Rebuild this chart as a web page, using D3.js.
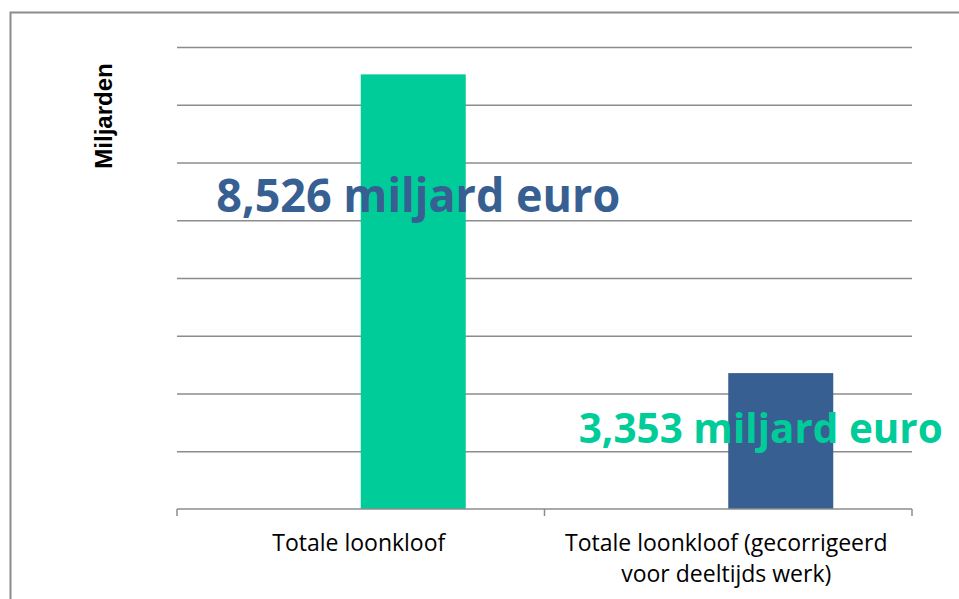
<!DOCTYPE html>
<html>
<head>
<meta charset="utf-8">
<script src="https://cdn.jsdelivr.net/npm/d3@7"></script>
<style>
  body { margin: 0; background: #fff; }
</style>
</head>
<body>
<div id="chart"></div>
<script>
// data
const categories = ["Totale loonkloof", "Totale loonkloof (gecorrigeerd voor deeltijds werk)"];
const categoryLines = [["Totale loonkloof"], ["Totale loonkloof (gecorrigeerd", "voor deeltijds werk)"]];
const values = [8.526, 3.353];
const valueLabels = ["8,526 miljard euro", "3,353 miljard euro"];
const yTicks = [1, 2, 3, 4, 5, 6, 7, 8, 9];
const yTitle = "Miljarden";

const barColors = ["#00cc99", "#375f92"];
const labelColors = ["#375f92", "#00cc99"];

const W = 959, H = 599;
const margin = {top: 47, right: 47, bottom: 90, left: 177},
    width = W - margin.left - margin.right,
    height = H - margin.top - margin.bottom;

const svg = d3.select("#chart")
    .append("svg")
    .attr("width", W)
    .attr("height", H);

// outer frame (cut off at right and bottom)
svg.append("rect")
    .attr("x", 10.5)
    .attr("y", 12.5)
    .attr("width", 1000)
    .attr("height", 700)
    .attr("fill", "none")
    .attr("stroke", "#8c8c8c")
    .attr("stroke-width", 2);

const g = svg.append("g")
    .attr("transform", `translate(${margin.left},${margin.top})`);

let x = d3.scaleBand()
    .domain(categories)
    .range([0, width])
    .padding(0);

// two series per group, the first one is empty (Excel gap width 150%)
let xSub = d3.scaleBand()
    .domain(["leeg", "waarde"])
    .range([0, x.bandwidth()])
    .paddingInner(0)
    .paddingOuter(0.75);

let y = d3.scaleLinear()
    .domain([1, 9])
    .range([height, 0]);

// gridlines
g.append("g")
    .call(d3.axisLeft(y).tickValues(yTicks.slice(1)).tickSize(-width).tickFormat(""))
    .call(s => s.select(".domain").remove())
    .call(s => s.selectAll(".tick line")
        .attr("stroke", "#8c8c8c")
        .attr("stroke-width", 1.5));

// bars
g.selectAll(".bar")
    .data(values)
    .enter()
    .append("rect")
    .attr("class", "bar")
    .attr("x", (d, i) => x(categories[i]) + xSub("waarde"))
    .attr("width", xSub.bandwidth())
    .attr("y", d => y(d))
    .attr("height", d => y(1) - y(d))
    .attr("fill", (d, i) => barColors[i]);

// x axis with ticks at the category edges
const xAxis = g.append("g")
    .attr("transform", `translate(0,${height})`);
xAxis.append("line")
    .attr("x1", 0).attr("x2", width)
    .attr("stroke", "#8c8c8c").attr("stroke-width", 1.5);
const edges = categories.map(c => x(c)).concat([width]);
xAxis.selectAll(".edge")
    .data(edges)
    .enter()
    .append("line")
    .attr("x1", d => d).attr("x2", d => d)
    .attr("y1", 0).attr("y2", 7)
    .attr("stroke", "#8c8c8c").attr("stroke-width", 1.5);

// category labels
categoryLines.forEach(function (lines, i) {
    let t = xAxis.append("text")
        .attr("text-anchor", "middle")
        .style("font-family", "'Open Sans', sans-serif")
        .style("font-size", "23px")
        .attr("fill", "#000");
    lines.forEach(function (line, j) {
        t.append("tspan")
            .attr("x", x(categories[i]) + x.bandwidth() / 2 - 2)
            .attr("y", 42 + j * 31)
            .text(line);
    });
});

// value labels (placed like the manual text boxes)
const labelLayout = [
    {dx: 5, dy: 138, size: 46, len: 404},
    {dx: -20, dy: 70, size: 41, len: 364}
];
g.selectAll(".vlabel")
    .data(values)
    .enter()
    .append("text")
    .attr("class", "vlabel")
    .attr("x", (d, i) => x(categories[i]) + xSub("waarde") + xSub.bandwidth() / 2 + labelLayout[i].dx)
    .attr("y", (d, i) => y(d) + labelLayout[i].dy)
    .attr("text-anchor", "middle")
    .attr("textLength", (d, i) => labelLayout[i].len)
    .attr("lengthAdjust", "spacingAndGlyphs")
    .style("font-family", "'Open Sans', sans-serif")
    .style("font-weight", "bold")
    .style("font-size", (d, i) => labelLayout[i].size + "px")
    .attr("fill", (d, i) => labelColors[i])
    .text((d, i) => valueLabels[i]);

// y axis title
svg.append("text")
    .attr("transform", "translate(112,116) rotate(-90)")
    .attr("text-anchor", "middle")
    .style("font-family", "'Liberation Sans', Arial, sans-serif")
    .style("font-weight", "bold")
    .style("font-size", "24px")
    .attr("fill", "#000")
    .text(yTitle);
</script>
</body>
</html>
